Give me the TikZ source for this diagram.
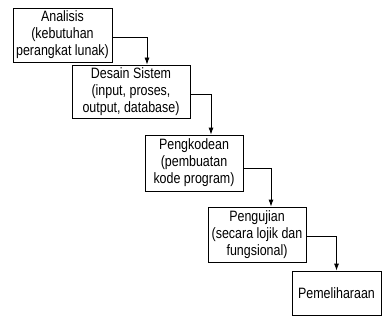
\documentclass[tikz,border=0pt]{standalone}
\usepackage{fontspec}
\setmainfont{Liberation Sans}[FakeStretch=0.83]
\usetikzlibrary{arrows.meta}
\tikzset{
    tahap/.style={draw,line width=0.8pt,align=center,inner sep=0pt,
        font=\fontsize{15}{17}\selectfont},
    alur/.style={line width=0.8pt,-{Latex[length=7pt,width=5pt]}}
}
\begin{document}
\begin{tikzpicture}[x=1pt,y=-1pt]
        \useasboundingbox (0,0) rectangle (382,326);
        %% Tahapan
        \node[tahap,minimum width=99pt,minimum height=54pt] (analisis) at (62.5,35)
            {Analisis\\(kebutuhan\\perangkat lunak)};
        \node[tahap,minimum width=118pt,minimum height=53pt] (desain) at (131,91.5)
            {Desain Sistem\\(input, proses,\\output, database)};
        \node[tahap,minimum width=98pt,minimum height=56pt] (kode) at (194,163)
            {Pengkodean\\(pembuatan\\kode program)};
        \node[tahap,minimum width=98pt,minimum height=55pt] (uji) at (257,234.5)
            {Pengujian\\(secara lojik dan\\fungsional)};
        \node[tahap,minimum width=89pt,minimum height=44pt] (pelihara) at (336.5,293)
            {Pemeliharaan};
        %% Alur
        \draw[alur] ([yshift=-2pt]analisis.east) -| ([xshift=16pt]desain.north);
        \draw[alur] ([yshift=-3pt]desain.east) -| ([xshift=17pt]kode.north);
        \draw[alur] ([yshift=-5pt]kode.east) -| ([xshift=14pt]uji.north);
        \draw[alur] ([yshift=-1.5pt]uji.east) -| (pelihara.north);
    \end{tikzpicture}
\end{document}
